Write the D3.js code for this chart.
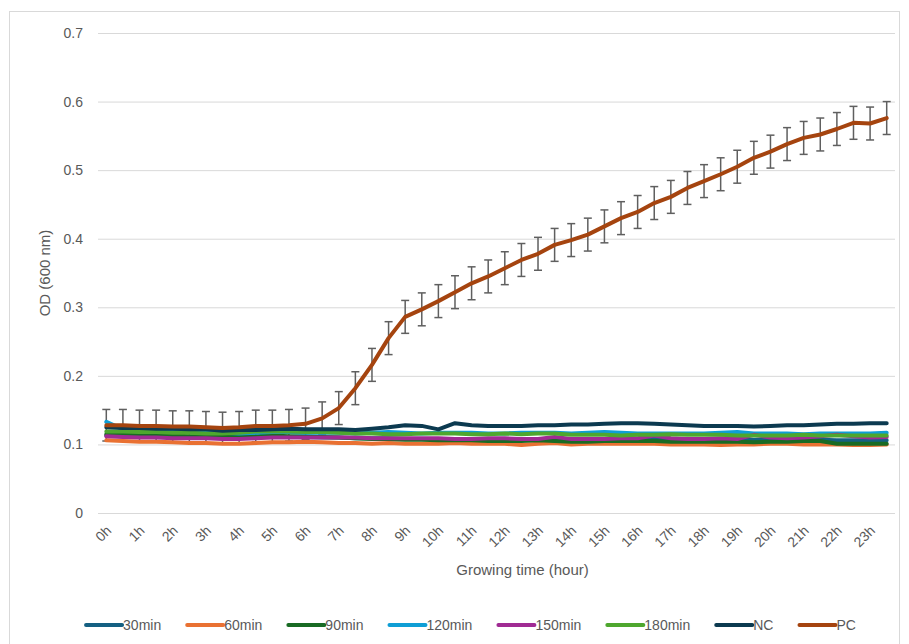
<!DOCTYPE html>
<html>
<head>
<meta charset="utf-8">
<script src="https://cdn.jsdelivr.net/npm/d3@7"></script>
<style>
  body { margin: 0; background: #fff; }
  text { fill: #595959; }
</style>
</head>
<body>
<div id="chart"></div>
<script>
const WIDTH = 909
const HEIGHT = 644

// half-hour readings, labels only on whole hours
const TIME = [0, 0.5, 1, 1.5, 2, 2.5, 3, 3.5, 4, 4.5, 5, 5.5, 6, 6.5, 7, 7.5, 8, 8.5, 9, 9.5, 10, 10.5, 11, 11.5,
  12, 12.5, 13, 13.5, 14, 14.5, 15, 15.5, 16, 16.5, 17, 17.5, 18, 18.5, 19, 19.5, 20, 20.5, 21, 21.5, 22, 22.5, 23, 23.5]
const HOUR_TICKS = [0, 1, 2, 3, 4, 5, 6, 7, 8, 9, 10, 11, 12, 13, 14, 15, 16, 17, 18, 19, 20, 21, 22, 23]
const Y_TICKS = [0, 0.1, 0.2, 0.3, 0.4, 0.5, 0.6, 0.7]

const SERIES_NAMES = ["30min", "60min", "90min", "120min", "150min", "180min", "NC", "PC"]
const SERIES_COLORS = ["#156082", "#E97132", "#196B24", "#0F9ED5", "#A02B93", "#4EA72E", "#0C3A50", "#A5440F"]

const S30 = [0.113, 0.112, 0.112, 0.111, 0.111, 0.110, 0.110, 0.110, 0.110, 0.111, 0.111, 0.111,
  0.111, 0.110, 0.110, 0.109, 0.109, 0.109, 0.108, 0.108, 0.108, 0.108, 0.108, 0.108,
  0.108, 0.108, 0.108, 0.108, 0.107, 0.107, 0.108, 0.108, 0.108, 0.108, 0.107, 0.107,
  0.107, 0.107, 0.107, 0.107, 0.107, 0.107, 0.107, 0.107, 0.106, 0.106, 0.106, 0.106]
const S60 = [0.106, 0.105, 0.104, 0.104, 0.103, 0.102, 0.102, 0.101, 0.101, 0.102, 0.103, 0.103,
  0.104, 0.103, 0.102, 0.102, 0.101, 0.102, 0.101, 0.101, 0.101, 0.102, 0.101, 0.101,
  0.101, 0.099, 0.101, 0.102, 0.100, 0.101, 0.101, 0.101, 0.101, 0.101, 0.100, 0.100,
  0.100, 0.099, 0.100, 0.100, 0.101, 0.101, 0.100, 0.100, 0.100, 0.099, 0.099, 0.100]
const S90 = [0.115, 0.114, 0.114, 0.113, 0.113, 0.112, 0.112, 0.111, 0.112, 0.112, 0.113, 0.112,
  0.112, 0.111, 0.110, 0.109, 0.108, 0.108, 0.107, 0.107, 0.106, 0.106, 0.106, 0.105,
  0.105, 0.105, 0.106, 0.105, 0.104, 0.104, 0.105, 0.105, 0.105, 0.105, 0.104, 0.104,
  0.104, 0.104, 0.104, 0.103, 0.104, 0.104, 0.105, 0.105, 0.101, 0.101, 0.101, 0.101]
const S120 = [0.133, 0.122, 0.119, 0.118, 0.118, 0.118, 0.117, 0.117, 0.116, 0.117, 0.118, 0.118,
  0.117, 0.117, 0.117, 0.116, 0.117, 0.118, 0.117, 0.116, 0.117, 0.117, 0.117, 0.116,
  0.116, 0.117, 0.117, 0.117, 0.116, 0.117, 0.118, 0.117, 0.116, 0.116, 0.116, 0.116,
  0.116, 0.117, 0.118, 0.116, 0.116, 0.116, 0.115, 0.116, 0.116, 0.116, 0.116, 0.117]
const S150 = [0.112, 0.111, 0.110, 0.110, 0.109, 0.109, 0.109, 0.108, 0.108, 0.109, 0.110, 0.110,
  0.110, 0.110, 0.110, 0.110, 0.109, 0.109, 0.109, 0.109, 0.109, 0.108, 0.108, 0.109,
  0.109, 0.108, 0.108, 0.111, 0.108, 0.108, 0.108, 0.109, 0.109, 0.113, 0.109, 0.108,
  0.108, 0.109, 0.108, 0.114, 0.110, 0.109, 0.110, 0.112, 0.114, 0.112, 0.110, 0.111]
const S180 = [0.119, 0.119, 0.118, 0.118, 0.117, 0.117, 0.116, 0.116, 0.117, 0.119, 0.119, 0.119,
  0.118, 0.118, 0.117, 0.116, 0.116, 0.115, 0.115, 0.116, 0.116, 0.116, 0.115, 0.115,
  0.116, 0.115, 0.116, 0.116, 0.114, 0.114, 0.114, 0.113, 0.114, 0.114, 0.115, 0.114,
  0.114, 0.114, 0.113, 0.113, 0.113, 0.113, 0.114, 0.113, 0.113, 0.113, 0.113, 0.113]
const NC = [0.125, 0.124, 0.124, 0.123, 0.123, 0.122, 0.122, 0.120, 0.121, 0.121, 0.122, 0.123,
  0.122, 0.122, 0.122, 0.121, 0.123, 0.125, 0.128, 0.127, 0.122, 0.131, 0.128, 0.127,
  0.127, 0.127, 0.128, 0.128, 0.129, 0.129, 0.130, 0.131, 0.131, 0.130, 0.129, 0.128,
  0.127, 0.127, 0.127, 0.126, 0.127, 0.128, 0.128, 0.129, 0.130, 0.130, 0.131, 0.131]
const PC = [0.128, 0.128, 0.127, 0.127, 0.126, 0.126, 0.125, 0.124, 0.125, 0.127, 0.127, 0.128,
  0.130, 0.138, 0.153, 0.182, 0.216, 0.255, 0.286, 0.297, 0.309, 0.322, 0.335, 0.345,
  0.357, 0.369, 0.378, 0.391, 0.398, 0.406, 0.418, 0.430, 0.439, 0.452, 0.461, 0.474,
  0.484, 0.494, 0.505, 0.518, 0.527, 0.538, 0.547, 0.552, 0.560, 0.569, 0.568, 0.576]
const PC_ERR = [0.023, 0.023, 0.023, 0.023, 0.023, 0.023, 0.023, 0.023, 0.023, 0.023, 0.023, 0.023,
  0.023, 0.024, 0.024, 0.024, 0.024, 0.024, 0.024, 0.024, 0.024, 0.024, 0.024, 0.024,
  0.024, 0.024, 0.024, 0.024, 0.024, 0.024, 0.024, 0.024, 0.024, 0.024, 0.024, 0.024,
  0.024, 0.024, 0.024, 0.024, 0.024, 0.024, 0.024, 0.024, 0.024, 0.024, 0.024, 0.024]

const seriesValues = [S30, S60, S90, S120, S150, S180, NC, PC]
const series = SERIES_NAMES.map((name, i) => ({
  name: name,
  color: SERIES_COLORS[i],
  points: TIME.map((t, j) => ({ t: t, v: seriesValues[i][j] }))
}))

const margin = { left: 98, right: 14, top: 33, bottom: 131 }
const x = d3.scaleLinear().domain([-0.25, 23.75]).range([margin.left, WIDTH - margin.right])
const y = d3.scaleLinear().domain([0, 0.7]).range([HEIGHT - margin.bottom, margin.top])

const svg = d3.select("#chart")
  .append("svg")
  .attr("width", WIDTH)
  .attr("height", HEIGHT)
  .style("font-family", "'Liberation Sans', Arial, sans-serif")

// chart frame
svg.append("rect")
  .attr("x", 9.5).attr("y", 11.5)
  .attr("width", 890).attr("height", 640)
  .attr("fill", "none")
  .attr("stroke", "#d9d9d9")

// gridlines + y labels
const yAxis = svg.append("g")
  .attr("transform", `translate(${margin.left},0)`)
  .call(d3.axisLeft(y).tickValues(Y_TICKS).tickFormat(d => d === 0 ? "0" : d3.format(".1f")(d))
    .tickSize(-(WIDTH - margin.left - margin.right)).tickPadding(15))
yAxis.select(".domain").remove()
yAxis.selectAll(".tick line").attr("stroke", "#d9d9d9").attr("stroke-width", 1)
yAxis.selectAll(".tick text").attr("font-size", 14).attr("fill", "#595959")

// x axis
const xAxis = svg.append("g")
  .attr("transform", `translate(0,${y(0)})`)
  .call(d3.axisBottom(x).tickValues(HOUR_TICKS).tickFormat(d => d + "h").tickSize(0))
xAxis.select(".domain").remove()
xAxis.selectAll(".tick text")
  .attr("font-size", 14)
  .attr("fill", "#595959")
  .attr("text-anchor", "end")
  .attr("transform", "translate(2,15) rotate(-45)")
  .attr("dy", "0.35em")
  .attr("y", 0)

// axis titles
svg.append("text")
  .attr("x", (margin.left + WIDTH - margin.right) / 2 + 26)
  .attr("y", 575)
  .attr("text-anchor", "middle")
  .attr("font-size", 15)
  .text("Growing time (hour)")

svg.append("text")
  .attr("transform", `translate(50,${(y(0) + y(0.7)) / 2}) rotate(-90)`)
  .attr("text-anchor", "middle")
  .attr("font-size", 15)
  .text("OD (600 nm)")

// error bars for PC
const errG = svg.append("g")
  .attr("stroke", "#5f5f5f")
  .attr("stroke-width", 1.5)
PC.forEach((v, i) => {
  const cx = x(TIME[i])
  const top = y(v + PC_ERR[i])
  const bot = y(v - PC_ERR[i])
  errG.append("line").attr("x1", cx).attr("x2", cx).attr("y1", top).attr("y2", bot)
  errG.append("line").attr("x1", cx - 4).attr("x2", cx + 4).attr("y1", top).attr("y2", top)
  errG.append("line").attr("x1", cx - 4).attr("x2", cx + 4).attr("y1", bot).attr("y2", bot)
})

// lines
const line = d3.line()
  .x(d => x(d.t))
  .y(d => y(d.v))

svg.append("g")
  .selectAll("path")
  .data(series)
  .join("path")
  .attr("d", d => line(d.points))
  .attr("fill", "none")
  .attr("stroke", d => d.color)
  .attr("stroke-width", 4)
  .attr("stroke-linejoin", "round")
  .attr("stroke-linecap", "round")

// legend
const legend = svg.append("g")
  .attr("transform", `translate(0,625)`)
let lx = 0
series.forEach(s => {
  const g = legend.append("g").attr("transform", `translate(${lx},0)`)
  g.append("line")
    .attr("x1", 2).attr("x2", 38)
    .attr("y1", 0).attr("y2", 0)
    .attr("stroke", s.color)
    .attr("stroke-width", 4)
    .attr("stroke-linecap", "round")
  const t = g.append("text")
    .attr("x", 39)
    .attr("y", 0)
    .attr("dy", "0.35em")
    .attr("font-size", 14)
    .text(s.name)
  const w = t.node().getComputedTextLength()
  lx += 39 + w + 24
})
const total = lx - 24
legend.attr("transform", `translate(${470 - total / 2},625)`)
</script>
</body>
</html>
